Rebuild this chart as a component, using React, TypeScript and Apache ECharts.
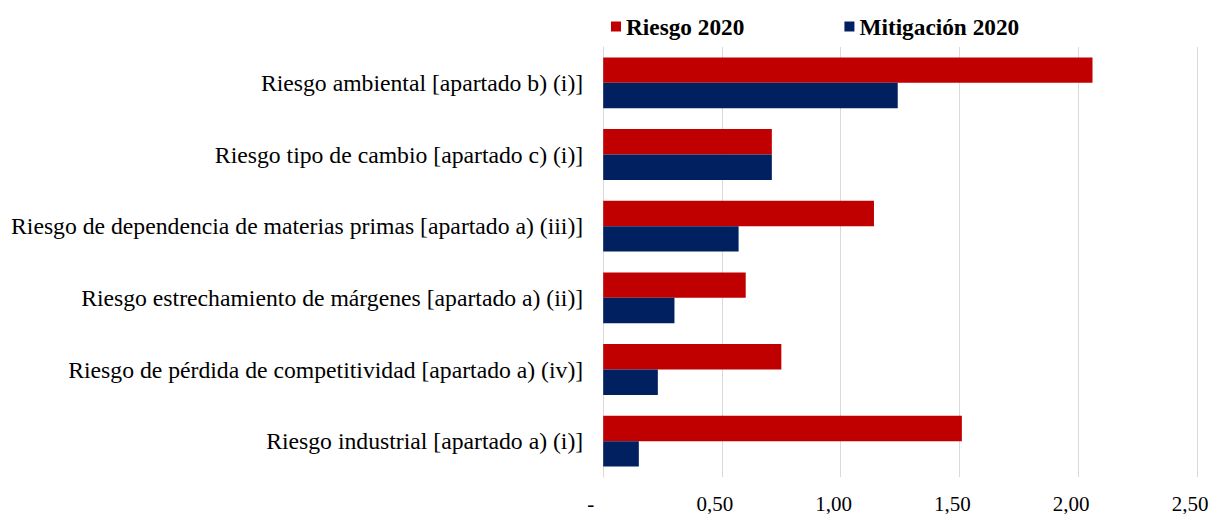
import React, { useEffect, useRef } from "react";
import * as echarts from "echarts";

const categories = [
  "Riesgo ambiental [apartado b) (i)]",
  "Riesgo tipo de cambio [apartado c) (i)]",
  "Riesgo de dependencia de materias primas [apartado a) (iii)]",
  "Riesgo estrechamiento de márgenes [apartado a) (ii)]",
  "Riesgo de pérdida de competitividad [apartado a) (iv)]",
  "Riesgo industrial [apartado a) (i)]",
];
const riesgo2020 = [2.06, 0.71, 1.14, 0.6, 0.75, 1.51];
const mitigacion2020 = [1.24, 0.71, 0.57, 0.3, 0.23, 0.15];
const seriesNames = ["Riesgo 2020", "Mitigación 2020"];

const FONT = "'Liberation Serif', 'Times New Roman', serif";

export default function App() {
  const ref = useRef<HTMLDivElement>(null);
  useEffect(() => {
    if (!ref.current) return;
    const chart = echarts.init(ref.current, null, { renderer: "svg" });
    chart.setOption({
      animation: false,
      backgroundColor: "#ffffff",
      textStyle: { fontFamily: FONT },
      legend: {
        top: 2,
        left: 598,
        itemWidth: 10,
        itemHeight: 10,
        itemGap: 100,
        icon: "rect",
        textStyle: { fontFamily: FONT, fontSize: 23.3, fontWeight: "bold", color: "#000" },
        data: seriesNames,
      },
      grid: { left: 595, right: 19, top: 39, bottom: 31, containLabel: false },
      xAxis: {
        type: "value",
        min: 0,
        max: 2.5,
        interval: 0.5,
        axisLine: { show: false },
        axisTick: { show: false },
        splitLine: { lineStyle: { color: "#d9d9d9", width: 1 } },
        axisLabel: {
          fontFamily: FONT,
          fontSize: 21,
          color: "#000",
          margin: 16,
          formatter: (v: number) => (v === 0 ? "{z|-}" : "{n|" + v.toFixed(2).replace(".", ",") + "}"),
          rich: {
            z: { fontFamily: FONT, fontSize: 21, color: "#000", padding: [0, 25, 0, 0] },
            n: { fontFamily: FONT, fontSize: 21, color: "#000", padding: [0, 14, 0, 0] },
          },
        },
      },
      yAxis: {
        type: "category",
        inverse: true,
        data: categories,
        axisLine: { show: true, lineStyle: { color: "#d9d9d9" } },
        axisTick: { show: false },
        axisLabel: { fontFamily: FONT, fontSize: 23.7, color: "#000", margin: 20 },
      },
      series: [
        {
          name: seriesNames[0],
          type: "bar",
          data: riesgo2020,
          itemStyle: { color: "#C00000" },
          barGap: "0%",
          barCategoryGap: "29%",
        },
        {
          name: seriesNames[1],
          type: "bar",
          data: mitigacion2020,
          itemStyle: { color: "#002060" },
          barGap: "0%",
          barCategoryGap: "29%",
        },
      ],
    });
    return () => chart.dispose();
  }, []);
  return <div ref={ref} style={{ width: 1208, height: 506 }} />;
}
